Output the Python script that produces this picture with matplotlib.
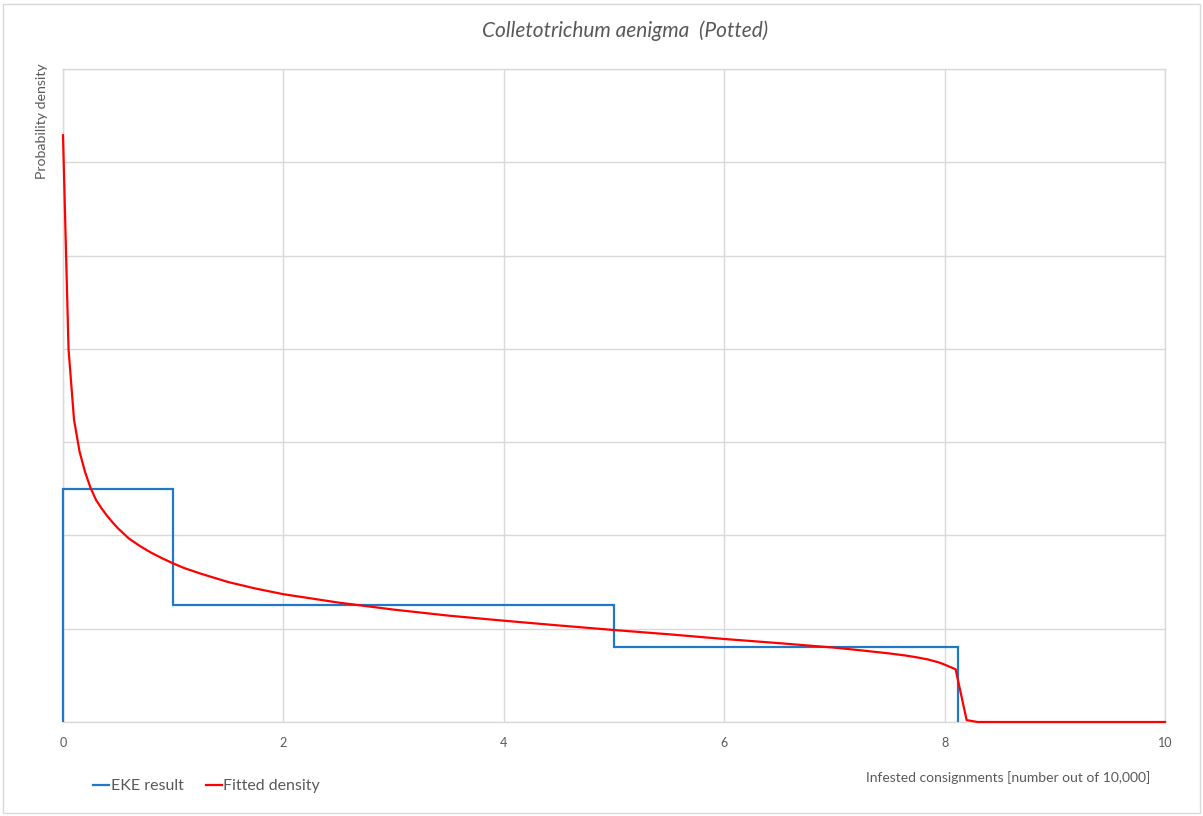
import matplotlib
matplotlib.use("Agg")
import matplotlib.pyplot as plt
from matplotlib.patches import Rectangle

# EKE result (histogram of elicited distribution)
eke_edges = [0.0, 1.0, 5.0, 8.12]
eke_heights = [0.25, 0.125, 0.08]

# Fitted density
fit_x = [0.0, 0.05, 0.1, 0.15, 0.2, 0.25, 0.3, 0.35, 0.4, 0.45, 0.5, 0.6, 0.7,
         0.8, 0.9, 1.0, 1.1, 1.25, 1.5, 1.75, 2.0, 2.5, 3.0, 3.5, 4.0, 4.5,
         5.0, 5.5, 6.0, 6.5, 7.0, 7.25, 7.5, 7.65, 7.75, 7.85, 7.95, 8.0, 8.1,
         8.2, 8.3, 10.0]
fit_y = [0.629, 0.400, 0.324, 0.290, 0.268, 0.251, 0.238, 0.229, 0.221, 0.214,
         0.2075, 0.1965, 0.1885, 0.1815, 0.1755, 0.170, 0.165, 0.159, 0.150,
         0.143, 0.137, 0.128, 0.1205, 0.114, 0.1086, 0.1035, 0.0986, 0.094,
         0.089, 0.0845, 0.0797, 0.0767, 0.0735, 0.0712, 0.0693, 0.0670, 0.0638,
         0.0615, 0.0565, 0.002, 0.0, 0.0]

x_ticks = [0, 2, 4, 6, 8, 10]
y_grid = [0.0, 0.1, 0.2, 0.3, 0.4, 0.5, 0.6, 0.7]

title = "Colletotrichum aenigma  (Potted)"
xlabel = "Infested consignments [number out of 10,000]"
ylabel = "Probability density"

plt.rcParams['font.family'] = ['Lato', 'DejaVu Sans']
W, H = 1203, 816
fig = plt.figure(figsize=(W / 100, H / 100), dpi=100)
fig.patch.set_facecolor('white')

# outer chart border
fig.patches.append(Rectangle((3 / W, 3 / H), (W - 6) / W, (H - 7) / H,
                             transform=fig.transFigure, fill=False,
                             edgecolor='#d9d9d9', linewidth=1.0))

L, R, T, B = 63, 1165, 69, 722
ax = fig.add_axes([L / W, 1 - B / H, (R - L) / W, (B - T) / H])
ax.set_xlim(0, 10)
ax.set_ylim(0, 0.7)
ax.set_xticks(x_ticks)
ax.set_xticklabels([str(t) for t in x_ticks])
ax.set_yticks(y_grid)
ax.set_yticklabels([])
ax.tick_params(axis='both', length=0, labelsize=9, labelcolor='#595959', pad=11)
ax.grid(True, color='#d9d9d9', linewidth=1.0)
ax.set_axisbelow(True)
for s in ax.spines.values():
    s.set_color('#d9d9d9')
    s.set_linewidth(1.0)

ax.stairs(eke_heights, eke_edges, baseline=0, color='#1f78c8', linewidth=1.6,
          label='EKE result', clip_on=False, zorder=3)
ax.plot(fit_x, fit_y, color='#ff0000', linewidth=1.6, label='Fitted density',
        clip_on=False, zorder=4)

fig.text(625 / W, 1 - 31 / H, title, ha='center', va='center', fontsize=15,
         style='italic', color='#595959')
fig.text(42 / W, 1 - 63 / H, ylabel, ha='center', va='top', rotation=90,
         fontsize=10.2, color='#595959')
fig.text(1150 / W, 1 - 778 / H, xlabel, ha='right', va='center',
         fontsize=10, color='#595959')

leg = fig.legend(loc='center left', bbox_to_anchor=(93 / W, 1 - 786 / H),
                 ncol=2, frameon=False, fontsize=11.5, handlelength=1.0,
                 handletextpad=0.1, columnspacing=1.4, borderpad=0,
                 borderaxespad=0)
for t in leg.get_texts():
    t.set_color('#595959')

fig.savefig('out.png', dpi=100)
